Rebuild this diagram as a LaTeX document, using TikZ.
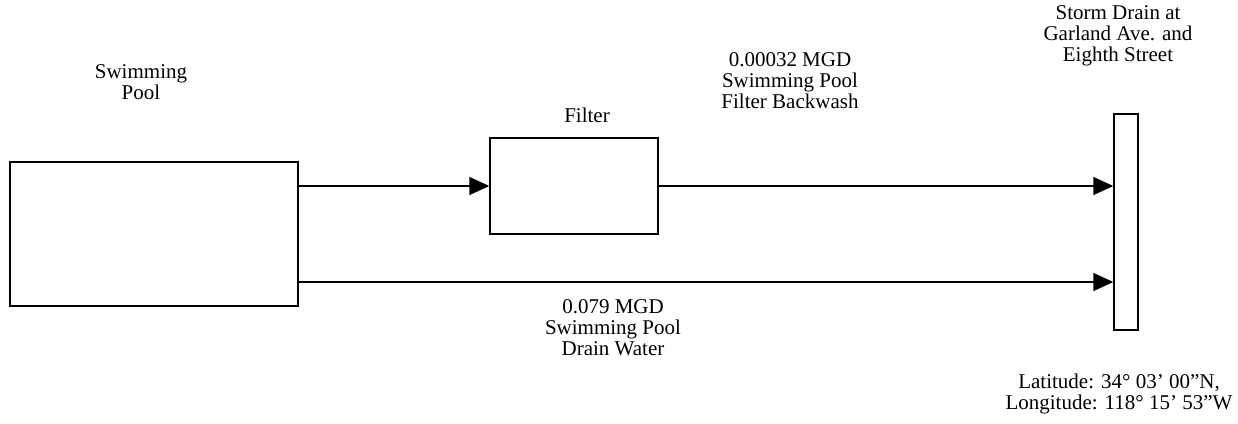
\documentclass[tikz,border=0pt]{standalone}
\usepackage{fontspec}
\setmainfont{Liberation Serif}
\usetikzlibrary{positioning,arrows.meta}

\begin{document}
\begin{tikzpicture}[
    x=1pt, y=-1pt,
    box/.style={draw=black, line width=1.4pt, inner sep=0pt},
    flow/.style={draw=black, line width=1.4pt, -{Triangle[length=20pt,width=18pt]}},
    label/.style={font=\fontsize{21}{21}\selectfont, align=center, inner sep=0pt}
]
\useasboundingbox (0,0) rectangle (1238,423);

% Boxes
\node[box, minimum width=288pt, minimum height=144pt] (pool) at (154,234) {};
\node[box, minimum width=168pt, minimum height=96pt] (filter) at (574,186) {};
\node[box, minimum width=24pt, minimum height=216pt] (drain) at (1126,222) {};

% Flows
\coordinate (low) at (298,282);
\draw[flow] (pool.east |- filter.west) -- (filter.west);
\draw[flow] (filter.east) -- (filter.east -| drain.west);
\draw[flow] (low) -- (low -| drain.west);

% Labels
\node[label] (poolname) at (141,82) {Swimming\\Pool};
\node[label] (filtername) at (587,115) {Filter};
\node[label] (backwash) at (790,81) {0.00032 MGD\\Swimming Pool\\Filter Backwash};
\node[label] (drainname) at (1118,36) {Storm Drain at\\Garland Ave. and\\Eighth Street};
\node[label] (drainwater) at (613,328) {0.079 MGD\\Swimming Pool\\Drain Water};
\node[label] (coords) at (1119,394) {Latitude: 34° 03’ 00”N,\\Longitude: 118° 15’ 53”W};

\end{tikzpicture}
\end{document}
